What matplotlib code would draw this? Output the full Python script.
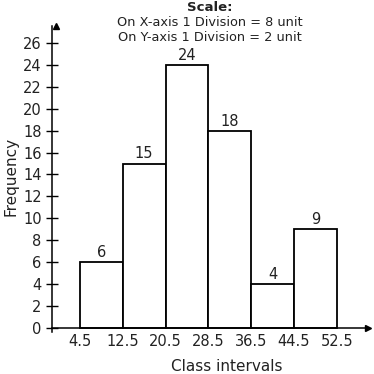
import matplotlib.pyplot as plt

# === Data ===
class_edges = [4.5, 12.5, 20.5, 28.5, 36.5, 44.5, 52.5]
frequency = [6, 15, 24, 18, 4, 9]
y_ticks = list(range(0, 27, 2))
scale_lines = ["On X-axis 1 Division = 8 unit", "On Y-axis 1 Division = 2 unit"]

plt.rcParams['font.family'] = 'DejaVu Sans'
txt_color = '#222222'

fig = plt.figure(figsize=(3.74, 3.74), dpi=100)
ax = fig.add_axes([0.139, 0.1136, 0.845, 0.8164])

lefts = class_edges[:-1]
widths = [b - a for a, b in zip(class_edges[:-1], class_edges[1:])]
ax.bar(lefts, frequency, width=widths, align='edge', color='white',
       edgecolor='black', linewidth=1.3, zorder=2)

# value labels above bars
for x, w, f in zip(lefts, widths, frequency):
    ax.annotate(str(f), (x + w / 2, f), xytext=(0, 1.5), textcoords='offset points',
                ha='center', va='bottom', fontsize=10.5, color=txt_color)

ax.set_xlim(-0.736, 58.35)
ax.set_ylim(-0.366, 27.56)

# axes look
for s in ['top', 'right']:
    ax.spines[s].set_visible(False)
ax.spines['bottom'].set_position(('data', 0))
ax.spines['left'].set_linewidth(1.1)
ax.spines['bottom'].set_linewidth(1.1)

ax.plot(1, 0, '>', color='black', markersize=4, transform=ax.get_yaxis_transform(), clip_on=False)
ax.plot(0, 1, '^', color='black', markersize=4, transform=ax.get_xaxis_transform(), clip_on=False)

ax.set_yticks(y_ticks)
ax.tick_params(axis='y', direction='inout', length=8.6, width=1, pad=3.2,
               labelsize=10.5, labelcolor=txt_color)
ax.set_xticks(class_edges)
ax.set_xticklabels([str(e) for e in class_edges])
ax.tick_params(axis='x', length=0, pad=5, labelsize=10.5, labelcolor=txt_color)

# labels and scale note
fig.text(0.030, 0.527, "Frequency", rotation=90, ha='center', va='center',
         fontsize=11, color=txt_color)
fig.text(0.607, 0.021, "Class intervals", ha='center', va='center',
         fontsize=11, color=txt_color)
fig.text(0.562, 0.981, "Scale:", ha='center', va='center', fontsize=9.5,
         fontweight='bold', color=txt_color)
fig.text(0.562, 0.940, scale_lines[0], ha='center', va='center', fontsize=9.3, color=txt_color)
fig.text(0.562, 0.900, scale_lines[1], ha='center', va='center', fontsize=9.3, color=txt_color)

fig.savefig('out.png', dpi=100)
